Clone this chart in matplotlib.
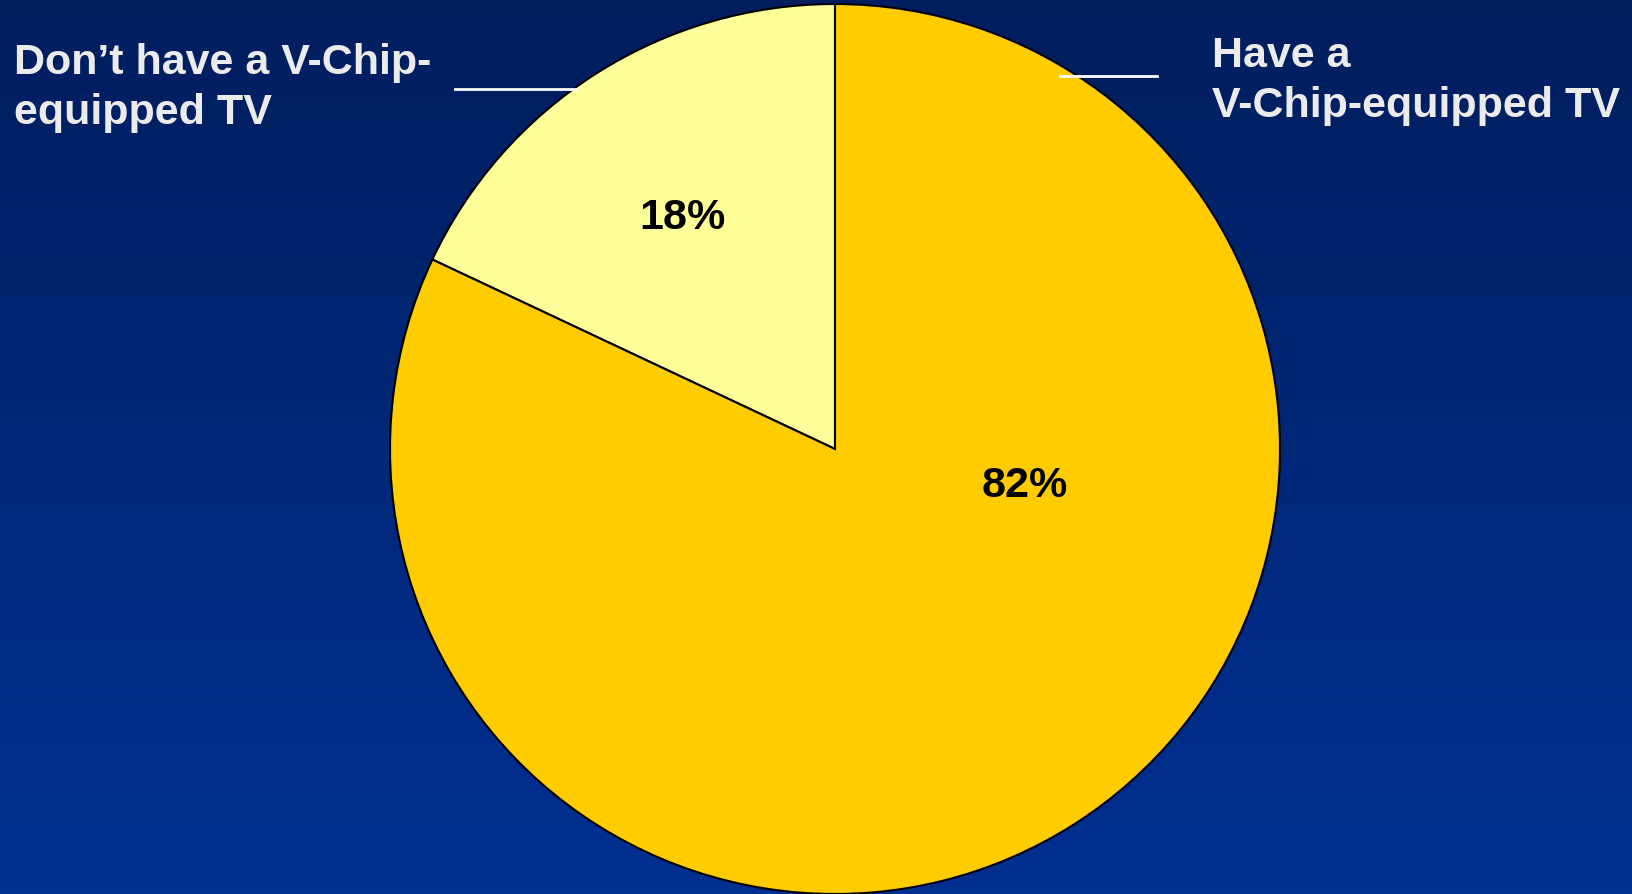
import numpy as np
import matplotlib
matplotlib.use("Agg")
import matplotlib.pyplot as plt
from matplotlib.colors import LinearSegmentedColormap

labels = ["Don\u2019t have a V-Chip-\nequipped TV", "Have a\nV-Chip-equipped TV"]
values = [18, 82]
colors = ["#FFFF99", "#FFCC00"]

W, H = 1632, 894
fig = plt.figure(figsize=(W / 100, H / 100), dpi=100)

# background gradient, dark navy at top to brighter blue at bottom
bg = fig.add_axes([0, 0, 1, 1])
cmap = LinearSegmentedColormap.from_list("bg", ["#003092", "#001E5E"])
grad = np.linspace(0, 1, 256).reshape(-1, 1)
bg.imshow(grad, cmap=cmap, aspect="auto", extent=[0, 1, 0, 1], origin="lower")
bg.axis("off")

# pie: center (835, 449) px, radius 445 px
cx, cy, r = 835, 449, 445
ax = fig.add_axes([(cx - r) / W, (H - cy - r) / H, 2 * r / W, 2 * r / H])
wedges, texts, autotexts = ax.pie(
    values, colors=colors, startangle=90, counterclock=True,
    autopct="%d%%", pctdistance=0.63,
    wedgeprops=dict(edgecolor="black", linewidth=1.5),
    textprops=dict(fontsize=31, fontweight="bold", family="Liberation Sans", color="black"),
)
for w in wedges:
    w.set_clip_on(False)
x0, y0 = autotexts[0].get_position()
autotexts[0].set_position((x0 - 0.005, y0 - 0.012))
autotexts[1].set_position((0.427, -0.083))
ax.set_xlim(-1, 1)
ax.set_ylim(-1, 1)
ax.set_aspect("equal")
ax.axis("off")

# leader lines
ax.plot([-0.854, -0.582], [0.81, 0.81], color="white", lw=2, clip_on=False)
ax.plot([0.506, 0.724], [0.838, 0.838], color="white", lw=2, clip_on=False)

txt = dict(fontsize=31, fontweight="bold", family="Liberation Sans",
           color="#EBEBEB", linespacing=1.32)
fig.text(14 / W, 1 - 88 / H, labels[0], ha="left", va="center", **txt)
fig.text(1212 / W, 1 - 81 / H, labels[1], ha="left", va="center", **txt)

fig.savefig("out.png", dpi=100)
